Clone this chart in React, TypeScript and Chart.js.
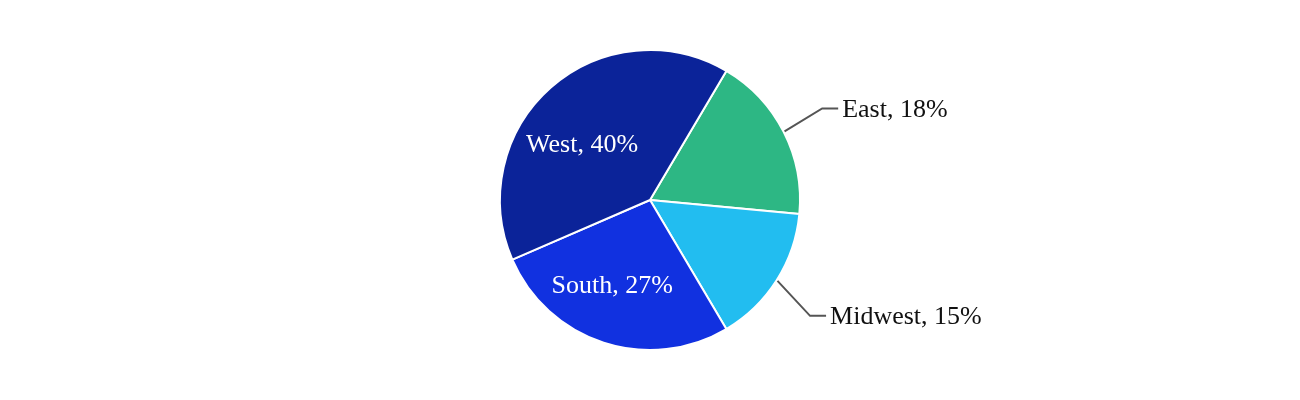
import React, { useEffect, useRef } from "react";
import { Chart, registerables } from "chart.js";

Chart.register(...registerables);

const regions = ["East", "Midwest", "South", "West"];
const shares = [18, 15, 27, 40];
const sliceColors = ["#2db784", "#22bdf0", "#1131e0", "#0b2399"];

// label placement styles (not data)
const placement = [
  { mode: "outside", dAngle: -1, elbowR: 195 },
  { mode: "outside", dAngle: 3.5, elbowR: 197.6 },
  { mode: "inside", dAngle: 6, rFrac: 0.62 },
  { mode: "inside", dAngle: -9.1, rFrac: 0.587 },
];

const FONT = '26px "Liberation Serif", "Times New Roman", serif';

const labelPlugin = {
  id: "pieLabels",
  afterDatasetsDraw(chart: any) {
    const ctx = chart.ctx as CanvasRenderingContext2D;
    const meta = chart.getDatasetMeta(0);
    const data = chart.data.datasets[0].data as number[];
    const total = data.reduce((a, b) => a + b, 0);
    ctx.save();
    ctx.font = FONT;
    meta.data.forEach((arc: any, i: number) => {
      const { x, y, startAngle, endAngle, outerRadius } = arc.getProps(
        ["x", "y", "startAngle", "endAngle", "outerRadius"],
        true
      );
      const mid = (startAngle + endAngle) / 2;
      const p = placement[i];
      const text = `${chart.data.labels[i]}, ${Math.round((data[i] / total) * 100)}%`;
      const a = mid + ((p.dAngle || 0) * Math.PI) / 180;
      if (p.mode === "inside") {
        const r = outerRadius * (p.rFrac as number);
        ctx.fillStyle = "#ffffff";
        ctx.textAlign = "center";
        ctx.textBaseline = "middle";
        ctx.fillText(text, x + Math.cos(a) * r, y + Math.sin(a) * r + 1.5);
      } else {
        const sx = x + Math.cos(mid) * (outerRadius + 1);
        const sy = y + Math.sin(mid) * (outerRadius + 1);
        const ex = x + Math.cos(a) * (p.elbowR as number);
        const ey = y + Math.sin(a) * (p.elbowR as number);
        ctx.strokeStyle = "#555555";
        ctx.lineWidth = 2;
        ctx.beginPath();
        ctx.moveTo(sx, sy);
        ctx.lineTo(ex, ey);
        ctx.lineTo(ex + 16, ey);
        ctx.stroke();
        ctx.fillStyle = "#111111";
        ctx.textAlign = "left";
        ctx.textBaseline = "middle";
        ctx.fillText(text, ex + 20, ey + 1.5);
      }
    });
    ctx.restore();
  },
};

export default function App() {
  const ref = useRef<HTMLCanvasElement>(null);
  useEffect(() => {
    document.body.style.margin = "0";
    const chart = new Chart(ref.current as HTMLCanvasElement, {
      type: "pie",
      data: {
        labels: regions,
        datasets: [
          {
            data: shares,
            backgroundColor: sliceColors,
            borderColor: "#ffffff",
            borderWidth: 2,
            hoverBorderWidth: 2,
            hoverOffset: 0,
          },
        ],
      },
      options: {
        responsive: false,
        animation: false,
        rotation: 30.6,
        layout: { padding: { top: 49, bottom: 49, left: 0, right: 0 } },
        plugins: {
          legend: { display: false },
          tooltip: { enabled: false },
        },
        events: [],
      },
      plugins: [labelPlugin],
    });
    return () => chart.destroy();
  }, []);
  return (
    <div style={{ position: "absolute", left: 0, top: 0, width: 1300, height: 400, background: "#fff" }}>
      <canvas ref={ref} width={1300} height={400} />
    </div>
  );
}
